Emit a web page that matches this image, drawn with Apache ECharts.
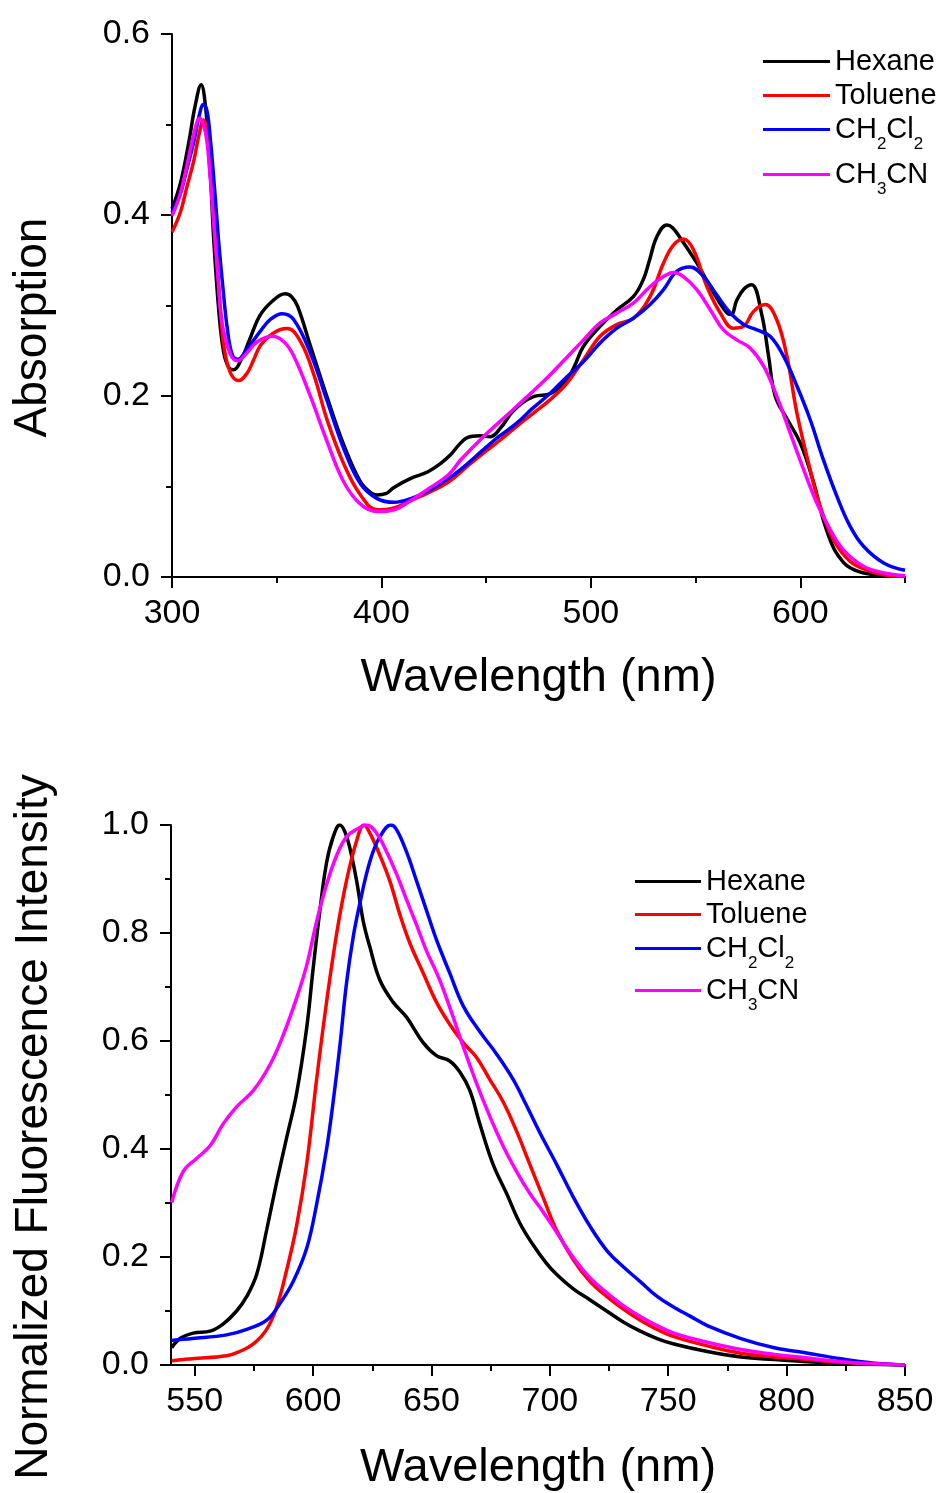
<!DOCTYPE html>
<html>
<head>
<meta charset="utf-8">
<script src="https://cdn.jsdelivr.net/npm/echarts@6/dist/echarts.min.js"></script>
<style>
html,body{margin:0;padding:0;background:#fff;}
#chart{width:947px;height:1493px;}
</style>
</head>
<body>
<div id="chart"></div>
<script>
// ---------- Absorption (top) ----------
const absHexX = [300,304,308,311,313.9,316,318,320,322.5,324.7,327,329.5,333,337,342,348,354,357,360,366,374,382,390,395,398,402,406,414,422,428,433,437,441,447,452,457,462,467,473,481,488.5,492,496.5,504.4,512.4,520.4,525,528,531.5,536.3,539,542.7,550.6,558.6,565,567,569.7,573,576.8,581.6,584.8,588,593.6,600,606.3,611,615.9,620.7,624,628,633,640,650];
const absHexY = [0.407,0.435,0.48,0.52,0.544,0.52,0.46,0.37,0.29,0.248,0.232,0.229,0.24,0.262,0.289,0.305,0.313,0.31,0.299,0.256,0.199,0.146,0.105,0.093,0.0907,0.092,0.099,0.109,0.116,0.125,0.135,0.146,0.154,0.156,0.155,0.165,0.181,0.192,0.1996,0.203,0.218,0.232,0.255,0.277,0.295,0.31,0.3285,0.35,0.376,0.389,0.386,0.3746,0.347,0.314,0.2917,0.29,0.306,0.318,0.323,0.29,0.245,0.2,0.175,0.148,0.105,0.063,0.032,0.016,0.01,0.006,0.0033,0.0015,0.001];

const absTolX = [300,304,307,310.4,313,315,317,318,320,321.5,323,324.7,327.9,331.9,335.9,339,342.3,348.7,355,361.4,367.8,374,382,390,398,406,414,422,432,440.8,448.7,456,464.6,472,480.6,488.5,496.5,504.4,512.4,520.4,528.3,534.7,539.5,544.2,549,555.4,561.8,568,572.9,577.7,583.3,588.8,593.6,598.4,604.7,609.5,615.9,623.8,633.4,641,650];
const absTolY = [0.381,0.403,0.43,0.46,0.49,0.505,0.49,0.452,0.40,0.35,0.30,0.256,0.2255,0.217,0.2255,0.24,0.256,0.27,0.2745,0.26,0.223,0.174,0.125,0.0907,0.0743,0.0764,0.0845,0.0927,0.105,0.122,0.137,0.15,0.1665,0.18,0.196,0.214,0.24,0.266,0.279,0.286,0.31,0.347,0.367,0.3735,0.3617,0.321,0.2917,0.275,0.277,0.2935,0.301,0.284,0.244,0.181,0.1186,0.078,0.041,0.0173,0.0063,0.002,0.0007];

const absDcmX = [300,304,307,310.4,313,315,316.7,318.3,320.3,322.3,324.3,326.3,328.7,331.4,335.9,342.3,347,352.6,358,366,374,382,390,398,406,414,422,432,437.9,448.7,456,464.6,472,480.6,488,496.5,504.4,512.4,520.4,528.3,534.7,541,547.4,553.8,560,566.6,573,579.3,585.6,592,598.4,604.7,611,617.5,623.8,630.2,639.8,650];
const absDcmY = [0.403,0.4236,0.45,0.481,0.51,0.522,0.515,0.484,0.43,0.37,0.32,0.2765,0.246,0.2405,0.252,0.272,0.2847,0.291,0.2847,0.248,0.195,0.142,0.103,0.0866,0.0825,0.0866,0.0948,0.109,0.119,0.1407,0.155,0.17,0.186,0.203,0.22,0.238,0.2586,0.275,0.286,0.301,0.3175,0.3378,0.3425,0.332,0.312,0.2917,0.279,0.273,0.266,0.244,0.211,0.174,0.1297,0.089,0.056,0.034,0.0155,0.0074];

const absAcnX = [300,304,308.8,311,313.2,315,316.7,318.3,319.9,322,323.9,327.9,331.4,335.9,340.7,347.8,353.4,358.2,366.2,374,382,390,398,406,414,422,432,437.9,448.7,464.6,480.6,496.5,504.4,512.4,520.4,528.3,534.7,539.5,544.2,550.6,557,563.3,569.7,576,582.5,588.8,595.2,601.6,607.9,614.3,620.6,630.2,640,650];
const absAcnY = [0.399,0.4236,0.4726,0.495,0.507,0.50,0.481,0.44,0.391,0.33,0.281,0.246,0.239,0.248,0.26,0.266,0.26,0.244,0.199,0.15,0.105,0.0805,0.0723,0.0743,0.0845,0.0968,0.113,0.1295,0.155,0.1886,0.2236,0.262,0.2807,0.2917,0.303,0.321,0.332,0.3366,0.332,0.3175,0.2954,0.273,0.262,0.253,0.233,0.1996,0.159,0.1186,0.0818,0.0523,0.03,0.0118,0.0044,0.0015];

// ---------- Fluorescence (bottom) ----------
const emHexX = [540.3,543.8,549.4,556.5,562.1,567.7,572,576.2,580.4,584.6,588.8,593,597.3,600,602.9,605.7,608.5,611.3,613.4,615.5,618.4,621.2,624,628.2,633.8,639.4,646.5,652.1,657.7,662,666.2,670.4,676,681.7,687.3,692.9,698.5,702.8,709.9,717,724,731,738.2,745.3,752.4,766.5,780.7,794.8,809,823,850];
const emHexY = [0.032,0.049,0.059,0.0626,0.0762,0.1,0.127,0.168,0.25,0.338,0.42,0.5017,0.624,0.733,0.842,0.93,0.978,1.0,0.988,0.958,0.8965,0.8216,0.774,0.713,0.672,0.6447,0.597,0.573,0.563,0.5425,0.5085,0.447,0.372,0.318,0.263,0.2226,0.1886,0.168,0.141,0.1205,0.1,0.0796,0.0626,0.049,0.0388,0.025,0.015,0.01,0.006,0.0027,0];

const emTolX = [540.3,549,563.5,569,574.8,580.4,584.6,588.8,593,597.3,601.5,605.7,610,614.1,618.4,621.5,624,628.2,632.4,636.6,640.9,646.5,652.1,657.7,663.4,669,674.6,680.2,685.9,691.5,697.1,702.8,709.9,717,724,731,738.2,745.3,752.4,766.5,780.7,794.8,809,823,850];
const emTolY = [0.008,0.0116,0.017,0.025,0.039,0.066,0.107,0.175,0.2566,0.372,0.529,0.672,0.8,0.8965,0.971,1.0,0.985,0.944,0.8965,0.835,0.781,0.726,0.672,0.631,0.597,0.57,0.529,0.488,0.4336,0.372,0.311,0.25,0.195,0.1545,0.127,0.1035,0.083,0.066,0.0524,0.0354,0.0218,0.015,0.01,0.005,0];

const emDcmX = [540.3,549,563.5,572,580.4,586,591.6,597.3,601.5,605.7,608.5,611.3,614.1,617,619.8,622.6,625.4,628.2,632.8,635.2,639.4,643.7,647.9,652.1,657.7,663.4,670.4,677.4,684.5,690.1,695.8,702.8,709.9,717,724,731,738.2,745.3,752.4,759.4,766.5,780.7,794.8,809,823,837.3,850];
const emDcmY = [0.0456,0.049,0.0558,0.066,0.083,0.1137,0.1545,0.216,0.2975,0.3996,0.488,0.59,0.706,0.794,0.8557,0.91,0.951,0.978,1.0,0.992,0.951,0.8965,0.842,0.7876,0.726,0.665,0.6174,0.5766,0.529,0.481,0.43,0.372,0.311,0.2566,0.2124,0.1818,0.1545,0.127,0.107,0.09,0.073,0.049,0.032,0.0218,0.0116,0.0034,0];

const emAcnX = [540.3,545.2,550.8,556.5,562.1,567.7,574.8,581.8,587.4,593,597.3,601.5,605.7,610,614.1,618.4,622.6,626.8,631,635.2,639.4,643.7,647.9,653.5,659.1,663.4,669,674.6,680.2,685.9,691.5,697.1,702.8,709.9,717,724,731,738.2,745.3,752.4,766.5,780.7,794.8,809,823,850];
const emAcnY = [0.301,0.3587,0.3826,0.406,0.447,0.478,0.5085,0.556,0.611,0.679,0.74,0.8216,0.89,0.944,0.978,0.992,1.0,0.985,0.951,0.91,0.8625,0.815,0.767,0.7127,0.645,0.59,0.522,0.461,0.406,0.3587,0.318,0.284,0.246,0.1988,0.161,0.134,0.11,0.09,0.073,0.059,0.042,0.0286,0.0197,0.013,0.006,0];

// ---------- Names, ticks ----------
const seriesNames = ['Hexane','Toluene','CH2Cl2','CH3CN'];
const seriesColors = ['#000000','#ff0000','#0000ff','#ff00ff'];
const absMajorTicks = [300,400,500,600];
const absMinorTicks = [350,450,550,650];
const emMajorTicks = [550,600,650,700,750,800,850];
const emMinorTicks = [575,625,675,725,775,825];

const zip = (xs, ys) => xs.map((x, i) => [x, ys[i]]);
const absData = [zip(absHexX, absHexY), zip(absTolX, absTolY), zip(absDcmX, absDcmY), zip(absAcnX, absAcnY)];
const emData = [zip(emHexX, emHexY), zip(emTolX, emTolY), zip(emDcmX, emDcmY), zip(emAcnX, emAcnY)];

const FONT = 'Liberation Sans, Arial, Helvetica, sans-serif';
const axisLineStyle = { color: '#000', width: 2 };

function mainX(gridIndex, min, max, ticks, nameGap) {
  return {
    type: 'value', gridIndex, min, max, position: 'bottom',
    name: 'Wavelength (nm)', nameLocation: 'middle', nameGap,
    nameTextStyle: { fontFamily: FONT, fontSize: 47, color: '#000' },
    axisLine: { show: true, onZero: false, lineStyle: axisLineStyle },
    axisTick: { show: true, inside: false, length: 11, customValues: ticks, lineStyle: axisLineStyle },
    axisLabel: { show: true, customValues: ticks, fontFamily: FONT, fontSize: 34, color: '#000', margin: 20 },
    splitLine: { show: false }
  };
}
function minorX(gridIndex, min, max, ticks) {
  return {
    type: 'value', gridIndex, min, max, position: 'bottom',
    axisLine: { show: false },
    axisTick: { show: true, inside: false, length: 6, customValues: ticks, lineStyle: axisLineStyle },
    axisLabel: { show: false },
    splitLine: { show: false }
  };
}
function mainY(gridIndex, max, name, nameGap, shiftPad) {
  return {
    type: 'value', gridIndex, min: 0, max, interval: 0.2,
    name, nameLocation: 'middle', nameGap,
    nameTextStyle: { fontFamily: FONT, fontSize: 46, color: '#000', padding: [0, shiftPad, 0, 0] },
    axisLine: { show: true, onZero: false, lineStyle: axisLineStyle },
    axisTick: { show: true, inside: false, length: 11, lineStyle: axisLineStyle },
    minorTick: { show: true, splitNumber: 2, length: 6, lineStyle: axisLineStyle },
    axisLabel: { fontFamily: FONT, fontSize: 34, color: '#000', margin: 22, formatter: v => v.toFixed(1) },
    splitLine: { show: false }, minorSplitLine: { show: false }
  };
}

const rich = {
  m: { fontFamily: FONT, fontSize: 29, color: '#000', lineHeight: 46 },
  s: { fontFamily: FONT, fontSize: 17, color: '#000', lineHeight: 16, padding: [30, 0, 0, 0] }
};
function fmt(name) {
  if (name === 'CH2Cl2') return '{m|CH}{s|2}{m|Cl}{s|2}';
  if (name === 'CH3CN') return '{m|CH}{s|3}{m|CN}';
  return '{m|' + name + '}';
}
function legendItem(i, left, centerY, w) {
  const hasSub = seriesNames[i].indexOf('CH') === 0;
  return {
    show: true, data: [seriesNames[i]], left, top: centerY - (hasSub ? 23 : 12), orient: 'vertical',
    icon: 'rect', itemWidth: w, itemHeight: 3, padding: 0, selectedMode: false,
    itemStyle: { color: seriesColors[i] },
    formatter: fmt, textStyle: { rich }
  };
}
const topCenters = [59, 93, 129, 174];
const botCenters = [879, 912, 948, 990];
const legends = [];
for (let i = 0; i < 4; i++) legends.push(legendItem(i, 763, topCenters[i], 67));
for (let i = 0; i < 4; i++) legends.push(legendItem(i, 635, botCenters[i], 66));

const series = [];
for (let i = 0; i < 4; i++) {
  series.push({
    name: seriesNames[i], type: 'line', xAxisIndex: 0, yAxisIndex: 0,
    data: absData[i], symbol: 'none', showSymbol: false, smooth: 0.4,
    lineStyle: { color: seriesColors[i], width: 3.5 }, itemStyle: { color: seriesColors[i] }, z: 2 + i
  });
}
for (let i = 0; i < 4; i++) {
  series.push({
    name: seriesNames[i], type: 'line', xAxisIndex: 2, yAxisIndex: 1,
    data: emData[i], symbol: 'none', showSymbol: false, smooth: 0.4,
    lineStyle: { color: seriesColors[i], width: 3.5 }, itemStyle: { color: seriesColors[i] }, z: 2 + i
  });
}

const chart = echarts.init(document.getElementById('chart'), null, { renderer: 'canvas' });
chart.setOption({
  animation: false,
  backgroundColor: '#ffffff',
  grid: [
    { left: 172, top: 34, width: 733, height: 543, containLabel: false },
    { left: 171, top: 825, width: 734, height: 542, containLabel: false }
  ],
  xAxis: [
    mainX(0, 300, 650, absMajorTicks, 78),
    minorX(0, 300, 650, absMinorTicks),
    mainX(1, 540, 850, emMajorTicks, 80),
    minorX(1, 540, 850, emMinorTicks)
  ],
  yAxis: [
    mainY(0, 0.6, 'Absorption', 116, 44),
    mainY(1, 1.0, 'Normalized Fluorescence Intensity', 114, 64)
  ],
  legend: legends,
  series
});
</script>
</body>
</html>
